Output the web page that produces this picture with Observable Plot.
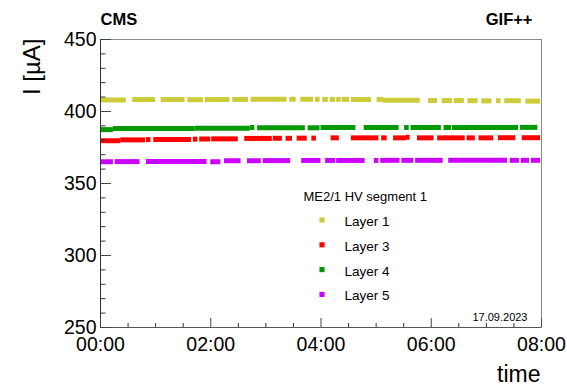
<!DOCTYPE html>
<html><head><meta charset="utf-8">
<script src="https://cdn.jsdelivr.net/npm/d3@7"></script>
<script src="https://cdn.jsdelivr.net/npm/@observablehq/plot@0.6"></script>
<style>body{margin:0;background:#fff}</style>
</head><body><div id="chart"></div>
<script>
// Data: segments of continuous readings [startMinute, endMinute, current µA]
const layerNames = ["Layer 1", "Layer 3", "Layer 4", "Layer 5"];
const layerColors = ["#cccc3a", "#ff0000", "#009900", "#cc00ff"];
const layer1 = [[0,28,408.0],[35,60,408.3],[66,92,408.3],[95,112,408.2],[114,141,408.3],[144,161,408.4],[164,203,408.5],[206,213,408.5],[218,232,408.5],[234,239,408.5],[242,248,408.4],[250,256,408.4],[257,262,408.4],[263,271,408.4],[273,295,408.3],[301,308,408.4],[308,348,407.8],[357,367,407.6],[372,383,407.6],[385,396,407.6],[400,411,407.5],[415,426,407.4],[431,436,407.5],[440,458,407.5],[463,479,407.2]];
const layer3 = [[0,22,379.7],[22,49,380.3],[50,55,380.5],[58,99,380.5],[101,106,380.8],[108,120,380.9],[121,150,381.0],[157,187,381.3],[188,198,381.4],[202,209,381.4],[214,225,381.5],[230,235,381.5],[251,260,381.7],[273,303,381.7],[306,312,381.7],[319,333,381.7],[333,337,382.1],[345,363,381.7],[367,397,381.7],[399,408,381.7],[412,428,381.7],[433,452,381.8],[459,479,381.8]];
const layer4 = [[0,14,387.4],[14,103,388.2],[103,163,388.4],[163,168,388.9],[171,223,388.7],[226,239,388.7],[240,278,388.9],[287,325,388.9],[331,336,388.9],[338,371,388.9],[374,382,388.9],[383,455,388.9],[457,476,389.0]];
const layer5 = [[0,14,365.1],[16,43,365.2],[50,116,365.3],[120,131,365.1],[135,153,365.8],[160,175,365.8],[177,207,365.9],[219,240,366.0],[245,256,366.0],[257,288,366.0],[298,303,366.0],[305,326,366.1],[328,341,366.1],[343,373,366.1],[379,443,366.1],[446,456,366.1],[458,467,366.1],[469,479,366.1]];
const xTicks = [0, 120, 240, 360, 480];
const yTicks = [250, 300, 350, 400, 450];
const legendTitle = "ME2/1 HV segment 1";
const dateText = "17.09.2023";

const series = [layer1, layer3, layer4, layer5];
const segments = series.flatMap((arr, i) => arr.map(([t0, t1, v]) => ({layer: layerNames[i], t0, t1, v})));

const W = 567, H = 385, mL = 100, mR = 26, mT = 39, mB = 58;
const fw = W - mL - mR, fh = H - mT - mB;
const xMinor = d3.range(0, 481, 30).filter(d => d % 120 !== 0);
const yMinor = d3.range(250, 451, 10).filter(d => d % 50 !== 0);
const fmt = m => String(Math.floor(m / 60)).padStart(2, "0") + ":" + String(m % 60).padStart(2, "0");
const font = "'Liberation Sans', Arial, Helvetica, sans-serif";

const legendMarks = layerNames.flatMap((name, i) => [
  Plot.dot([name], {frameAnchor: "top-left", dx: 221.5, dy: 180.5 + i * 24.8, symbol: "square", r: 2.9, fill: layerColors[i], stroke: "none"}),
  Plot.text([name], {frameAnchor: "top-left", dx: 244, dy: 186.5 + i * 24.8, lineAnchor: "bottom", textAnchor: "start", fontSize: 13.5, fill: "#000"})
]);

const chart = Plot.plot({
  width: W, height: H,
  marginLeft: mL, marginRight: mR, marginTop: mT, marginBottom: mB,
  style: {fontFamily: font, background: "#fff"},
  x: {domain: [0, 480], axis: null},
  y: {domain: [250, 450], axis: null},
  color: {domain: layerNames, range: layerColors},
  marks: [
    Plot.ruleY(segments, {y: "v", x1: "t0", x2: "t1", stroke: "layer", strokeWidth: 5}),
    Plot.frame({stroke: "#8a8a8a"}),
    Plot.ruleX([0], {stroke: "#333"}),
    Plot.ruleY([250], {stroke: "#555"}),
    Plot.tickY(yTicks, {y: d => d, insetRight: fw - 11, stroke: "#444"}),
    Plot.tickY(yMinor, {y: d => d, insetRight: fw - 5.5, stroke: "#333"}),
    Plot.tickX(xTicks, {x: d => d, insetTop: fh - 9, stroke: "#444"}),
    Plot.tickX(xMinor, {x: d => d, insetTop: fh - 4, stroke: "#333"}),
    Plot.axisY(yTicks, {tickSize: 0, tickPadding: 4, fontSize: 19.5, fill: "#000", label: null}),
    Plot.axisX(xTicks, {tickSize: 0, tickPadding: 9.5, fontSize: 19.5, fill: "#000", tickFormat: fmt, label: null}),
    Plot.text(["CMS"], {frameAnchor: "top-left", dy: -15, lineAnchor: "bottom", textAnchor: "start", fontWeight: "bold", fontSize: 16.5, fill: "#000"}),
    Plot.text(["GIF++"], {frameAnchor: "top-right", dx: -9, dy: -15, lineAnchor: "bottom", textAnchor: "end", fontWeight: "bold", fontSize: 16.5, fill: "#000"}),
    Plot.text(["I [µA]"], {frameAnchor: "top-left", dx: -61, dy: -1, rotate: -90, lineAnchor: "bottom", textAnchor: "end", fontSize: 24, fill: "#000"}),
    Plot.text(["time"], {frameAnchor: "bottom-right", dx: -1, dy: 54, lineAnchor: "bottom", textAnchor: "end", fontSize: 23, fill: "#000"}),
    Plot.text([dateText], {frameAnchor: "bottom-right", dx: -14, dy: -7, lineAnchor: "bottom", textAnchor: "end", fontSize: 11, fill: "#000"}),
    Plot.text([legendTitle], {frameAnchor: "top-left", dx: 203, dy: 161, lineAnchor: "bottom", textAnchor: "start", fontSize: 13, fill: "#000"}),
    ...legendMarks
  ]
});
document.getElementById("chart").appendChild(chart);
</script>
</body></html>
